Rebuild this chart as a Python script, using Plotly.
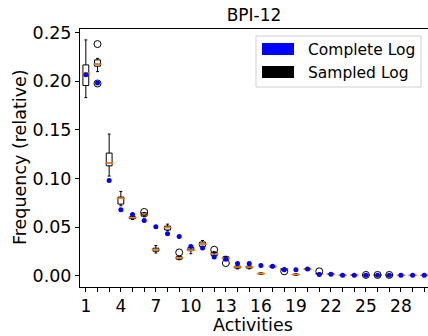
import plotly.graph_objects as go

# ---- data ----
activities = list(range(1, 31))
q1 = [0.1954, 0.2153, 0.1129, 0.0736, 0.0585, 0.0612, 0.0252, 0.0470, 0.0170, 0.0257,
      0.0301, 0.0205, 0.0170, 0.0078, 0.0078, 0.0018, 0.0088, 0.0062, 0.0008, 0.0063,
      0.0016, 0.0013, 0.0004, 0.0004, 0.0004, 0.0004, 0.0004, 0.0002, 0.0002, 0.0002]
median = [0.2081, 0.2174, 0.1157, 0.0794, 0.0597, 0.0630, 0.0268, 0.0495, 0.0185, 0.0262,
          0.0325, 0.0226, 0.0182, 0.0089, 0.0089, 0.0022, 0.0095, 0.0069, 0.0012, 0.0069,
          0.0020, 0.0017, 0.0006, 0.0006, 0.0006, 0.0006, 0.0006, 0.0004, 0.0004, 0.0004]
q3 = [0.2166, 0.2218, 0.1260, 0.0808, 0.0607, 0.0645, 0.0283, 0.0510, 0.0195, 0.0290,
      0.0346, 0.0240, 0.0195, 0.0098, 0.0098, 0.0026, 0.0101, 0.0074, 0.0016, 0.0075,
      0.0024, 0.0021, 0.0008, 0.0008, 0.0008, 0.0008, 0.0008, 0.0006, 0.0006, 0.0006]
lower_whisker = [0.1830, 0.2097, 0.1024, 0.0719, 0.0578, 0.0605, 0.0233, 0.0462, 0.0164, 0.0226,
                 0.0290, 0.0195, 0.0160, 0.0070, 0.0070, 0.0015, 0.0082, 0.0058, 0.0005, 0.0058,
                 0.0013, 0.0010, 0.0002, 0.0002, 0.0002, 0.0002, 0.0002, 0.0001, 0.0001, 0.0001]
upper_whisker = [0.2423, 0.2233, 0.1455, 0.0866, 0.0612, 0.0650, 0.0310, 0.0530, 0.0200, 0.0298,
                 0.0362, 0.0248, 0.0200, 0.0102, 0.0102, 0.0029, 0.0105, 0.0078, 0.0019, 0.0079,
                 0.0027, 0.0024, 0.0010, 0.0010, 0.0010, 0.0010, 0.0010, 0.0008, 0.0008, 0.0008]
outlier_x = [2, 2, 6, 9, 12, 13, 18, 21, 25, 26, 27]
outlier_y = [0.2380, 0.1975, 0.0655, 0.0239, 0.0267, 0.0130, 0.0045, 0.0045, 0.0008, 0.0008, 0.0008]
complete_log = [0.2064, 0.1980, 0.0979, 0.0678, 0.0630, 0.0568, 0.0503, 0.0431, 0.0404, 0.0300,
                0.0284, 0.0192, 0.0168, 0.0125, 0.0125, 0.0106, 0.0096, 0.0060, 0.0062, 0.0069,
                0.0012, 0.0015, 0.0005, 0.0005, 0.0005, 0.0005, 0.0005, 0.0004, 0.0004, 0.0004]
x_tick_labels = [str(a) if (a - 1) % 3 == 0 else "" for a in activities]
y_ticks = [0.0, 0.05, 0.10, 0.15, 0.20, 0.25]
legend_labels = ["Complete Log", "Sampled Log"]
title = "BPI-12"

FONT = "DejaVu Sans"
W, H = 428, 336
L, R, T, B = 80, 0, 29, 49
PW, PH = W - L - R, H - T - B

def px(xp):
    return (xp - L) / PW

def py(yp):
    return (H - B - yp) / PH

fig = go.Figure()
fig.add_trace(go.Box(
    x=activities, q1=q1, median=median, q3=q3,
    lowerfence=lower_whisker, upperfence=upper_whisker,
    width=0.5, whiskerwidth=0.5, boxpoints=False,
    fillcolor="white", line=dict(color="black", width=1),
    showlegend=False, hoverinfo="skip",
))
fig.add_trace(go.Scatter(
    x=activities, y=median, mode="markers",
    marker=dict(symbol="line-ew", size=6, line=dict(color="#ff7f0e", width=1.5)),
    showlegend=False, hoverinfo="skip",
))
fig.add_trace(go.Scatter(
    x=outlier_x, y=outlier_y, mode="markers",
    marker=dict(symbol="circle-open", size=7, color="black", line=dict(width=1)),
    showlegend=False,
))
fig.add_trace(go.Scatter(
    x=activities, y=complete_log, mode="markers",
    marker=dict(symbol="circle", size=5, color="#0000ff"),
    showlegend=False,
))

# legend (manual, matplotlib-like)
shapes = [
    dict(type="rect", xref="paper", yref="paper", x0=px(256), x1=px(421), y0=py(87), y1=py(36),
         line=dict(color="#d0d0d0", width=1), fillcolor="rgba(255,255,255,0.8)", layer="above"),
    dict(type="rect", xref="paper", yref="paper", x0=px(262), x1=px(294), y0=py(55), y1=py(43),
         line=dict(width=0), fillcolor="#0000ff", layer="above"),
    dict(type="rect", xref="paper", yref="paper", x0=px(262), x1=px(294), y0=py(78), y1=py(66),
         line=dict(width=0), fillcolor="black", layer="above"),
]
annotations = [
    dict(text=legend_labels[0], xref="paper", yref="paper", x=px(306), y=py(49.5),
         xanchor="left", yanchor="middle", showarrow=False, font=dict(family=FONT, size=15.5, color="black")),
    dict(text=legend_labels[1], xref="paper", yref="paper", x=px(306), y=py(72.5),
         xanchor="left", yanchor="middle", showarrow=False, font=dict(family=FONT, size=15.5, color="black")),
    dict(text="Frequency (relative)", xref="paper", yref="paper", x=px(20), y=py(157),
         xanchor="center", yanchor="middle", textangle=-90, showarrow=False,
         font=dict(family=FONT, size=17.5, color="black")),
    dict(text="Activities", xref="paper", yref="paper", x=px(253), y=py(325),
         xanchor="center", yanchor="middle", showarrow=False,
         font=dict(family=FONT, size=17.5, color="black")),
]

fig.update_layout(
    width=W, height=H,
    margin=dict(l=L, r=R, t=T, b=B, pad=0),
    paper_bgcolor="white", plot_bgcolor="white",
    font=dict(family=FONT, size=17, color="black"),
    title=dict(text=title, x=0.5, xref="paper", xanchor="center",
               y=1 - 15 / H, yref="container", yanchor="middle",
               font=dict(family=FONT, size=17, color="black")),
    showlegend=False,
    shapes=shapes, annotations=annotations,
)
fig.update_xaxes(
    range=[0.5, 0.5 + PW / 11.67], tickmode="array", tickvals=activities, ticktext=x_tick_labels,
    ticks="outside", ticklen=4, tickwidth=1, tickcolor="black",
    showline=True, linecolor="black", linewidth=1, mirror=True,
    showgrid=False, zeroline=False, tickfont=dict(family=FONT, size=17),
)
fig.update_yaxes(
    range=[-0.0116, 0.2535], tickmode="array", tickvals=y_ticks, tickformat=".2f",
    ticks="outside", ticklen=4, tickwidth=1, tickcolor="black",
    showline=True, linecolor="black", linewidth=1, mirror=False,
    showgrid=False, zeroline=False, tickfont=dict(family=FONT, size=17.5),
)

fig.write_html(
    "out.html",
    config={"displayModeBar": False},
    post_script="document.body.style.margin='0';document.body.style.padding='0';",
)
